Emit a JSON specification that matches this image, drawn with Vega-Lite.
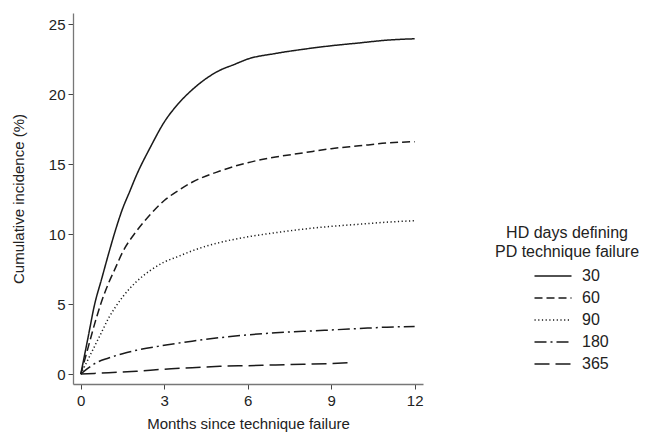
{
  "$schema": "https://vega.github.io/schema/vega-lite/v6.json",
  "width": 350,
  "height": 371,
  "autosize": {"type": "none"},
  "padding": {"left": 73, "top": 13, "right": 228, "bottom": 49},
  "background": "white",
  "config": {
    "view": {"stroke": null},
    "font": "Liberation Sans",
    "axis": {"labelFont": "Liberation Sans", "titleFont": "Liberation Sans", "labelColor": "#222", "titleColor": "#222", "titleFontWeight": "normal", "labelFontSize": 15, "titleFontSize": 15, "domainColor": "#777", "domainWidth": 1.3, "tickColor": "#444", "tickSize": 5, "grid": false},
    "legend": {"labelFont": "Liberation Sans", "titleFont": "Liberation Sans", "titleFontWeight": "normal"}
  },
  "data": {"values": [
    {"m": 0, "ci": 0, "days": "30"},
    {"m": 0.25, "ci": 2.5, "days": "30"},
    {"m": 0.5, "ci": 5.0, "days": "30"},
    {"m": 0.75, "ci": 6.8, "days": "30"},
    {"m": 1, "ci": 8.6, "days": "30"},
    {"m": 1.25, "ci": 10.3, "days": "30"},
    {"m": 1.5, "ci": 11.8, "days": "30"},
    {"m": 1.75, "ci": 13.0, "days": "30"},
    {"m": 2, "ci": 14.2, "days": "30"},
    {"m": 2.5, "ci": 16.2, "days": "30"},
    {"m": 3, "ci": 18.0, "days": "30"},
    {"m": 3.5, "ci": 19.3, "days": "30"},
    {"m": 4, "ci": 20.3, "days": "30"},
    {"m": 4.5, "ci": 21.1, "days": "30"},
    {"m": 5, "ci": 21.7, "days": "30"},
    {"m": 5.5, "ci": 22.1, "days": "30"},
    {"m": 6, "ci": 22.5, "days": "30"},
    {"m": 7, "ci": 22.9, "days": "30"},
    {"m": 8, "ci": 23.2, "days": "30"},
    {"m": 9, "ci": 23.45, "days": "30"},
    {"m": 10, "ci": 23.65, "days": "30"},
    {"m": 11, "ci": 23.85, "days": "30"},
    {"m": 12, "ci": 23.95, "days": "30"},

    {"m": 0, "ci": 0, "days": "60"},
    {"m": 0.25, "ci": 1.8, "days": "60"},
    {"m": 0.5, "ci": 3.6, "days": "60"},
    {"m": 0.75, "ci": 5.2, "days": "60"},
    {"m": 1, "ci": 6.5, "days": "60"},
    {"m": 1.25, "ci": 7.6, "days": "60"},
    {"m": 1.5, "ci": 8.7, "days": "60"},
    {"m": 2, "ci": 10.2, "days": "60"},
    {"m": 2.5, "ci": 11.4, "days": "60"},
    {"m": 3, "ci": 12.4, "days": "60"},
    {"m": 3.5, "ci": 13.1, "days": "60"},
    {"m": 4, "ci": 13.7, "days": "60"},
    {"m": 5, "ci": 14.5, "days": "60"},
    {"m": 6, "ci": 15.1, "days": "60"},
    {"m": 7, "ci": 15.5, "days": "60"},
    {"m": 8, "ci": 15.8, "days": "60"},
    {"m": 9, "ci": 16.1, "days": "60"},
    {"m": 10, "ci": 16.3, "days": "60"},
    {"m": 11, "ci": 16.5, "days": "60"},
    {"m": 12, "ci": 16.6, "days": "60"},

    {"m": 0, "ci": 0, "days": "90"},
    {"m": 0.25, "ci": 1.0, "days": "90"},
    {"m": 0.5, "ci": 2.0, "days": "90"},
    {"m": 0.75, "ci": 3.0, "days": "90"},
    {"m": 1, "ci": 4.0, "days": "90"},
    {"m": 1.25, "ci": 4.8, "days": "90"},
    {"m": 1.5, "ci": 5.5, "days": "90"},
    {"m": 2, "ci": 6.6, "days": "90"},
    {"m": 2.5, "ci": 7.4, "days": "90"},
    {"m": 3, "ci": 8.0, "days": "90"},
    {"m": 3.5, "ci": 8.4, "days": "90"},
    {"m": 4, "ci": 8.8, "days": "90"},
    {"m": 5, "ci": 9.4, "days": "90"},
    {"m": 6, "ci": 9.8, "days": "90"},
    {"m": 7, "ci": 10.1, "days": "90"},
    {"m": 8, "ci": 10.35, "days": "90"},
    {"m": 9, "ci": 10.55, "days": "90"},
    {"m": 10, "ci": 10.7, "days": "90"},
    {"m": 11, "ci": 10.85, "days": "90"},
    {"m": 12, "ci": 10.95, "days": "90"},

    {"m": 0, "ci": 0, "days": "180"},
    {"m": 0.25, "ci": 0.4, "days": "180"},
    {"m": 0.5, "ci": 0.75, "days": "180"},
    {"m": 1, "ci": 1.15, "days": "180"},
    {"m": 1.5, "ci": 1.45, "days": "180"},
    {"m": 2, "ci": 1.7, "days": "180"},
    {"m": 3, "ci": 2.05, "days": "180"},
    {"m": 4, "ci": 2.35, "days": "180"},
    {"m": 5, "ci": 2.6, "days": "180"},
    {"m": 6, "ci": 2.8, "days": "180"},
    {"m": 7, "ci": 2.95, "days": "180"},
    {"m": 8, "ci": 3.05, "days": "180"},
    {"m": 9, "ci": 3.15, "days": "180"},
    {"m": 10, "ci": 3.25, "days": "180"},
    {"m": 11, "ci": 3.35, "days": "180"},
    {"m": 12, "ci": 3.4, "days": "180"},

    {"m": 0, "ci": 0, "days": "365"},
    {"m": 1, "ci": 0.1, "days": "365"},
    {"m": 2, "ci": 0.2, "days": "365"},
    {"m": 3, "ci": 0.35, "days": "365"},
    {"m": 4, "ci": 0.45, "days": "365"},
    {"m": 5, "ci": 0.55, "days": "365"},
    {"m": 6, "ci": 0.6, "days": "365"},
    {"m": 7, "ci": 0.65, "days": "365"},
    {"m": 8, "ci": 0.7, "days": "365"},
    {"m": 9, "ci": 0.75, "days": "365"},
    {"m": 9.8, "ci": 0.82, "days": "365"}
  ]},
  "mark": {"type": "line", "color": "#1a1a1a", "strokeWidth": 1.5, "interpolate": "monotone"},
  "encoding": {
    "x": {"field": "m", "type": "quantitative", "scale": {"domain": [-0.28, 12.3], "nice": false, "zero": false},
      "axis": {"values": [0, 3, 6, 9, 12], "title": "Months since technique failure", "labelPadding": 4, "titlePadding": 8}},
    "y": {"field": "ci", "type": "quantitative", "scale": {"domain": [-0.71, 25.79], "nice": false, "zero": false},
      "axis": {"values": [0, 5, 10, 15, 20, 25], "title": "Cumulative incidence (%)", "labelPadding": 3, "titlePadding": 22}},
    "strokeDash": {"field": "days", "type": "nominal", "sort": ["30", "60", "90", "180", "365"],
      "scale": {"domain": ["30", "60", "90", "180", "365"], "range": [[1, 0], [8, 4], [1.2, 2.5], [12, 4, 2, 4], [15, 6]]},
      "legend": {"title": ["HD days defining", "PD technique failure"], "orient": "none", "legendX": 422, "legendY": 212,
        "titleFontSize": 16, "titleColor": "#222", "titleAlign": "center", "titleAnchor": "middle", "titleLineHeight": 19, "titlePadding": 8,
        "labelFontSize": 16, "labelColor": "#222", "labelOffset": 21,
        "symbolType": "M-3.7,0H3.7", "symbolSize": 100, "symbolOffset": 19, "symbolStrokeWidth": 1.5, "symbolStrokeColor": "#1a1a1a", "symbolFillColor": "transparent", "rowPadding": 6}}
  }
}
